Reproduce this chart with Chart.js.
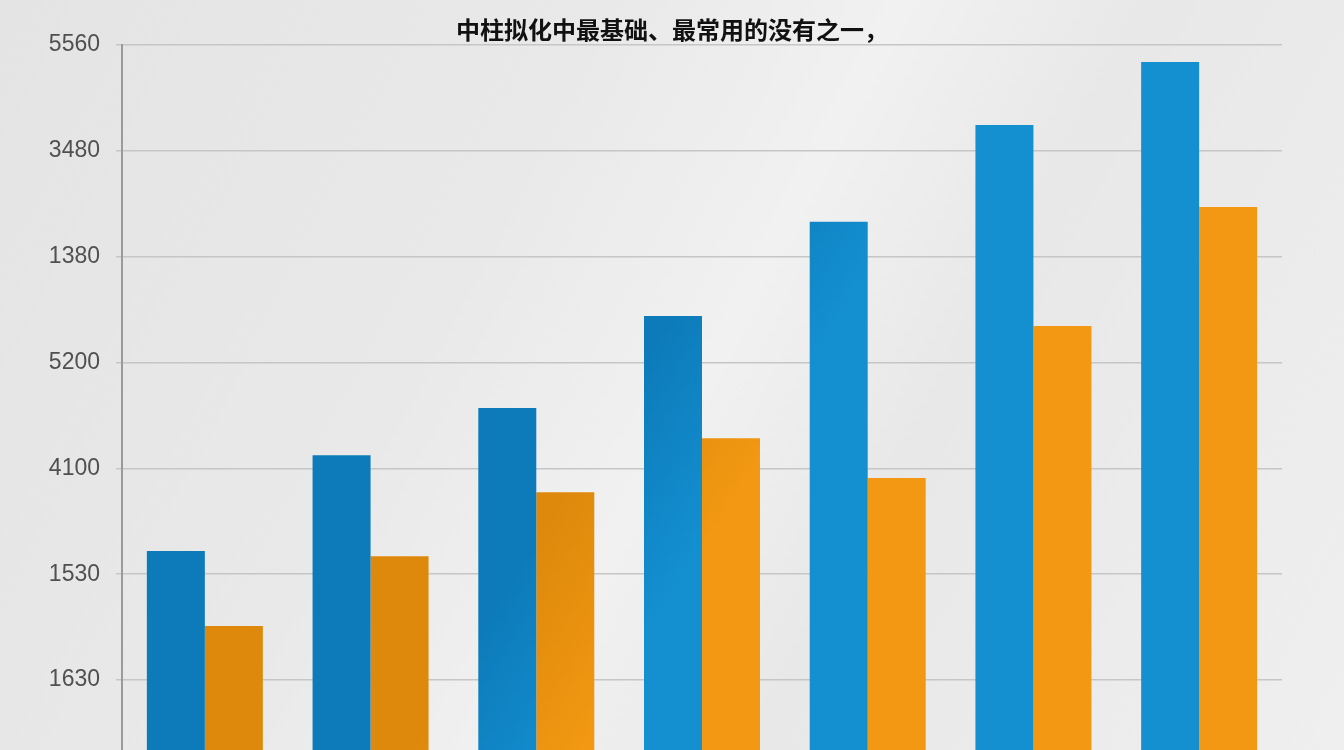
<!DOCTYPE html>
<html>
<head>
<meta charset="utf-8">
<script src="https://cdn.jsdelivr.net/npm/chart.js@4/dist/chart.umd.min.js"></script>
<style>
  html, body { margin: 0; padding: 0; }
  body {
    width: 1344px; height: 750px; overflow: hidden;
    background: linear-gradient(118deg, #e4e4e4 0%, #e9e9e9 35%, #f1f1f1 52%, #e8e8e8 66%, #efefef 100%);
  }
  #wrap { position: relative; width: 1344px; height: 750px; }
</style>
</head>
<body>
<div id="wrap"><canvas id="chart"></canvas></div>
<script>
// ─── DATA ────────────────────────────────────────────────────────────────────

const chartTitle = "中柱拟化中最基础、最常用的没有之一，";
const categories = ["1", "2", "3", "4", "5", "6", "7"];
// tick labels as printed on the picture, bottom gridline first
const tickLabels = ["1630", "1530", "4100", "5200", "1380", "3480", "5560"];
const tickValues = [0, 1000, 2000, 3000, 4000, 5000, 6000];
// bar heights measured against the gridlines (1 gridline step = 1000)
const blueValues   = [1220, 2125, 2570, 3440, 4330, 5245, 5840];
const orangeValues = [510, 1170, 1775, 2285, 1910, 3345, 4470];

const axisMin = -661;   // bars run off the bottom edge of the picture

// ─── COLOURS ─────────────────────────────────────────────────────────────────

function diagGradient(ctx, dark, light) {
    const area = ctx.chart.chartArea;
    if (!area) return dark;
    const g = ctx.chart.ctx.createLinearGradient(area.left, area.top, area.right, area.bottom);
    g.addColorStop(0, dark);
    g.addColorStop(0.45, dark);
    g.addColorStop(0.56, light);
    g.addColorStop(1, light);
    return g;
}

// ─── CHART ───────────────────────────────────────────────────────────────────

new Chart(document.getElementById("chart"), {
    type: "bar",
    data: {
        labels: categories,
        datasets: [
            {
                label: "A",
                data: blueValues,
                base: axisMin,
                backgroundColor: ctx => diagGradient(ctx, "#0d7bba", "#1490d1"),
                borderWidth: 0
            },
            {
                label: "B",
                data: orangeValues,
                base: axisMin,
                backgroundColor: ctx => diagGradient(ctx, "#de890c", "#f29812"),
                borderWidth: 0
            }
        ]
    },
    options: {
        responsive: true,
        maintainAspectRatio: false,
        animation: false,
        layout: { padding: 0 },
        datasets: { bar: { categoryPercentage: 0.7, barPercentage: 1.0 } },
        plugins: {
            legend: { display: false },
            tooltip: { enabled: false },
            title: {
                display: true,
                text: chartTitle,
                color: "#111",
                font: { family: "'Noto Sans CJK SC', 'Noto Sans', sans-serif", size: 24, weight: "bold", lineHeight: 1.2 },
                padding: { top: 15, bottom: 1.2 }
            }
        },
        scales: {
            x: { display: false, grid: { display: false } },
            y: {
                min: axisMin,
                max: 6000,
                afterBuildTicks: scale => { scale.ticks = tickValues.map(v => ({ value: v })); },
                afterFit: scale => { scale.width = 122; scale.paddingBottom = 0; scale.paddingTop = 0; },
                ticks: {
                    color: "#505050",
                    padding: 16,
                    font: { family: "'Liberation Sans', Arial, sans-serif", size: 23 },
                    callback: (v) => {
                        const i = tickValues.indexOf(v);
                        return i >= 0 ? tickLabels[i] : "";
                    }
                },
                grid: { color: "#c6c6c6", lineWidth: 1.5, tickLength: 6 },
                border: { display: true, color: "#9a9a9a", width: 2 }
            },
            // empty right-hand axis only keeps the right margin, so the title stays centred on the page
            yRight: {
                position: "right",
                min: axisMin,
                max: 6000,
                ticks: { display: false },
                grid: { display: false, drawOnChartArea: false },
                border: { display: false },
                afterFit: scale => { scale.width = 62; scale.paddingBottom = 0; scale.paddingTop = 0; }
            }
        }
    }
});
</script>
</body>
</html>
